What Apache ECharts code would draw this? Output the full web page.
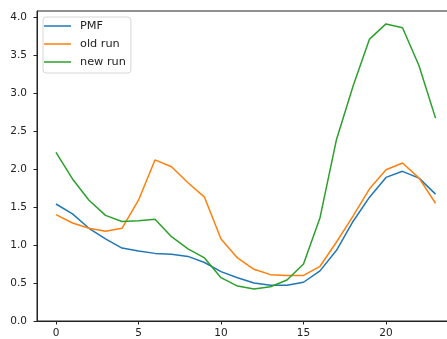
<!DOCTYPE html>
<html>
<head>
<meta charset="utf-8">
<script src="https://cdn.jsdelivr.net/npm/echarts@6/dist/echarts.min.js"></script>
<style>
  html, body { margin: 0; padding: 0; background: #fff; overflow: hidden; }
  #chart { width: 460px; height: 339px; }
</style>
</head>
<body>
<div id="chart"></div>
<script>
// Hour index along the x axis
const hours = [0,1,2,3,4,5,6,7,8,9,10,11,12,13,14,15,16,17,18,19,20,21,22,23];

// Series values
const pmf    = [1.54,1.41,1.22,1.08,0.96,0.92,0.89,0.88,0.85,0.77,0.65,0.57,0.50,0.47,0.47,0.51,0.66,0.93,1.31,1.63,1.89,1.97,1.88,1.67];
const oldRun = [1.40,1.29,1.22,1.18,1.22,1.59,2.12,2.03,1.82,1.63,1.08,0.83,0.68,0.61,0.60,0.60,0.72,1.04,1.38,1.74,1.99,2.08,1.88,1.55];
const newRun = [2.22,1.87,1.59,1.39,1.31,1.32,1.34,1.11,0.95,0.83,0.57,0.46,0.42,0.45,0.54,0.75,1.36,2.39,3.09,3.71,3.91,3.86,3.36,2.67];

// Tick labels
const xTicks = [0, 5, 10, 15, 20];
const yTicks = [0, 0.5, 1.0, 1.5, 2.0, 2.5, 3.0, 3.5, 4.0];

const seriesNames = ['PMF', 'old run', 'new run'];
const seriesColors = ['#1f77b4', '#ff7f0e', '#2ca02c'];
const seriesData = [pmf, oldRun, newRun];

const font = 'DejaVu Sans';
// Plain line swatch for legend entries (thin bar centred in a 27x14 box)
const lineIcon = 'path://M0,0L0,0M0,6.25L27,6.25L27,7.75L0,7.75ZM0,14L0,14';

const chart = echarts.init(document.getElementById('chart'));

chart.setOption({
  animation: false,
  textStyle: { fontFamily: font },
  grid: {
    left: 37, top: 11, width: 417.5, height: 312,
    show: true, borderColor: '#222', borderWidth: 1, backgroundColor: 'transparent'
  },
  legend: {
    orient: 'vertical',
    left: 43, top: 17,
    padding: [2, 5, 4, 1],
    icon: lineIcon,
    itemWidth: 27, itemHeight: 14, itemGap: 4,
    itemStyle: { borderWidth: 0 },
    backgroundColor: 'rgba(255,255,255,0.8)',
    borderColor: '#d6d6d6', borderWidth: 1, borderRadius: 3,
    textStyle: { fontFamily: font, fontSize: 11.3, lineHeight: 14, color: '#222', padding: [0, 0, 0, 4] },
    data: seriesNames
  },
  xAxis: {
    type: 'value',
    min: -1.15, max: 24.15,
    splitLine: { show: false },
    axisLine: { show: true, onZero: false, lineStyle: { color: '#222', width: 1 } },
    axisTick: { show: true, length: 3.5, customValues: xTicks, lineStyle: { color: '#222' } },
    axisLabel: { customValues: xTicks, fontSize: 10.5, color: '#222', margin: 7, fontFamily: font }
  },
  yAxis: {
    type: 'value',
    min: 0, max: 4.08,
    splitLine: { show: false },
    axisLine: { show: true, onZero: false, lineStyle: { color: '#222', width: 1 } },
    axisTick: { show: true, length: 3.5, customValues: yTicks, lineStyle: { color: '#222' } },
    axisLabel: {
      customValues: yTicks, fontSize: 10.5, color: '#222', margin: 10, fontFamily: font,
      formatter: v => v.toFixed(1)
    }
  },
  series: seriesNames.map((name, i) => ({
    name,
    type: 'line',
    data: hours.map((h, j) => [h, seriesData[i][j]]),
    symbol: 'none',
    color: seriesColors[i],
    lineStyle: { width: 1.5, color: seriesColors[i] }
  }))
});
</script>
</body>
</html>
